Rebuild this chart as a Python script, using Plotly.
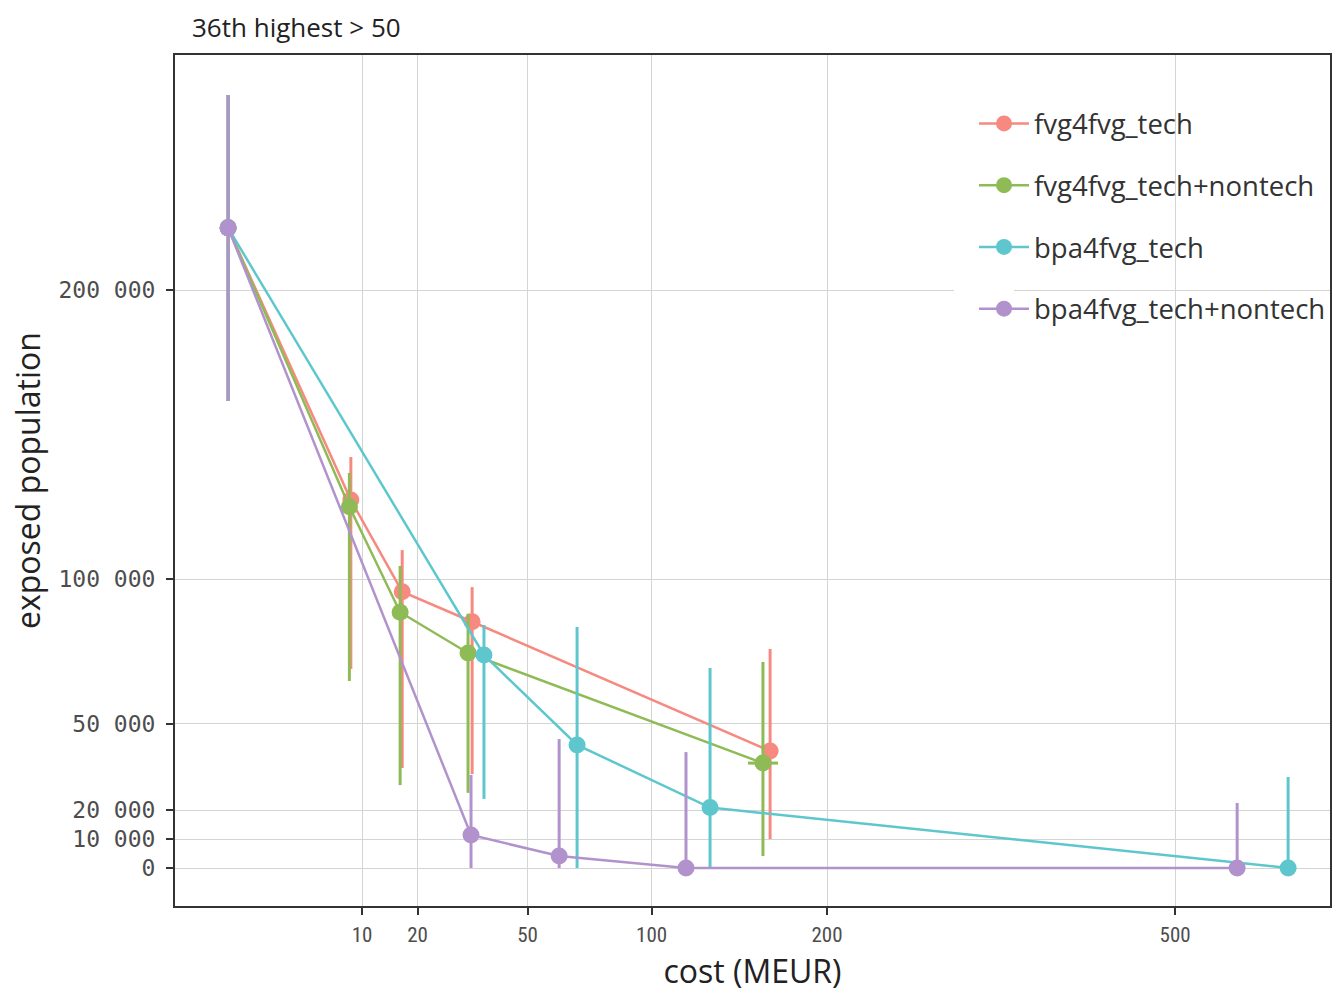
import numpy as np
import plotly.graph_objects as go

# ---- data ----
series_names = ["fvg4fvg_tech", "fvg4fvg_tech+nontech", "bpa4fvg_tech", "bpa4fvg_tech+nontech"]
series_colors = ["#F68A80", "#8EBB55", "#5EC7CD", "#B292CC"]

cost_fvg_tech = [0, 8.4, 16.9, 33.2, 163.8]
pop_fvg_tech = [221500, 127300, 95600, 85200, 40500]
pop_lo_fvg_tech = [161600, 68900, 34600, 32500, 10000]
pop_hi_fvg_tech = [267500, 142200, 110000, 97200, 75800]
cost_lo_fvg_tech = [0, 8.4, 16.9, 33.2, 163.8]
cost_hi_fvg_tech = [0, 8.4, 16.9, 33.2, 163.8]

cost_fvg_all = [0, 8.2, 16.5, 32.1, 159.5]
pop_fvg_all = [221500, 125000, 88500, 74400, 36300]
pop_lo_fvg_all = [161600, 64700, 28700, 26000, 4150]
pop_hi_fvg_all = [267500, 136700, 104500, 88000, 71300]
cost_lo_fvg_all = [0, 8.2, 16.5, 32.1, 150.7]
cost_hi_fvg_all = [0, 8.2, 16.5, 32.1, 168.6]

cost_bpa_tech = [0, 36.5, 67.9, 129.5, 626.5]
pop_bpa_tech = [221500, 73700, 42600, 20900, 0]
pop_lo_bpa_tech = [161600, 23900, 0, 0, 0]
pop_hi_bpa_tech = [267500, 84100, 83400, 69200, 31500]
cost_lo_bpa_tech = [0, 36.5, 67.9, 129.5, 626.5]
cost_hi_bpa_tech = [0, 36.5, 67.9, 129.5, 626.5]

cost_bpa_all = [0, 32.9, 61.1, 116.9, 567.7]
pop_bpa_all = [221500, 11400, 4150, 0, 0]
pop_lo_bpa_all = [161600, 0, 0, 0, 0]
pop_hi_bpa_all = [267500, 32200, 44600, 40100, 22500]
cost_lo_bpa_all = [0, 32.9, 61.1, 116.9, 567.7]
cost_hi_bpa_all = [0, 32.9, 61.1, 116.9, 567.7]

x_tick_values = [10, 20, 50, 100, 200, 500]
y_tick_values = [0, 10000, 20000, 50000, 100000, 200000]
y_tick_labels = ["0", "10 000", "20 000", "50 000", "100 000", "200 000"]

title_text = "36th highest > 50"
x_title = "cost (MEUR)"
y_title = "exposed population"

series = [
    (cost_fvg_tech, pop_fvg_tech, pop_lo_fvg_tech, pop_hi_fvg_tech, cost_lo_fvg_tech, cost_hi_fvg_tech),
    (cost_fvg_all, pop_fvg_all, pop_lo_fvg_all, pop_hi_fvg_all, cost_lo_fvg_all, cost_hi_fvg_all),
    (cost_bpa_tech, pop_bpa_tech, pop_lo_bpa_tech, pop_hi_bpa_tech, cost_lo_bpa_tech, cost_hi_bpa_tech),
    (cost_bpa_all, pop_bpa_all, pop_lo_bpa_all, pop_hi_bpa_all, cost_lo_bpa_all, cost_hi_bpa_all),
]

# sqrt scale on x (not native in plotly): transform data and ticks
def sq(v):
    return np.sqrt(np.asarray(v, dtype=float))

fig = go.Figure()
for name, color, (c, p, plo, phi, clo, chi) in zip(series_names, series_colors, series):
    x = sq(c)
    y = np.asarray(p, dtype=float)
    fig.add_trace(go.Scatter(
        x=x, y=y, name=name, mode="lines+markers", legendgroup=name,
        line=dict(color=color, width=2.5),
        marker=dict(color=color, size=17, line=dict(width=0)),
        error_y=dict(type="data", symmetric=False,
                     array=np.asarray(phi) - y, arrayminus=y - np.asarray(plo),
                     color=color, thickness=3, width=0),
        error_x=dict(type="data", symmetric=False,
                     array=sq(chi) - x, arrayminus=x - sq(clo),
                     color=color, thickness=3, width=0),
    ))

W, H = 1332, 992
L, R, T, B = 175, 1330, 55, 906
def px_x(v):
    return (v - L) / (R - L)
def px_y(v):
    return 1 - (v - T) / (B - T)

fig.update_layout(
    width=W, height=H,
    margin=dict(l=L, r=W - R, t=T, b=H - B, autoexpand=False),
    paper_bgcolor="white", plot_bgcolor="white",
    font=dict(family="Open Sans, Noto Sans, sans-serif", color="#222222"),
    showlegend=True,
    legend=dict(
        x=px_x(974), y=px_y(99), xanchor="left", yanchor="top",
        bgcolor="rgba(0,0,0,0)", borderwidth=0,
        font=dict(size=27.5, color="#333333", family="Open Sans, sans-serif"),
        itemwidth=50, traceorder="grouped", tracegroupgap=23,
    ),
    xaxis=dict(
        range=[-1.254, 26.019], automargin=False,
        tickvals=sq(x_tick_values), ticktext=[str(v) for v in x_tick_values],
        showgrid=True, gridcolor="#D4D4D4", gridwidth=1, zeroline=False,
        showline=True, linecolor="#333333", linewidth=2, mirror=True,
        ticks="outside", ticklen=7, tickwidth=2, tickcolor="#333333",
        ticklabelstandoff=2,
        tickfont=dict(family="Liberation Sans Narrow, Roboto Condensed, Roboto, sans-serif", size=21, color="#4D4D4D"),
        title=dict(text=x_title, font=dict(size=32, color="#222222"), standoff=16),
    ),
    yaxis=dict(
        range=[-13149, 281315], automargin=False,
        tickvals=y_tick_values, ticktext=y_tick_labels,
        showgrid=True, gridcolor="#D4D4D4", gridwidth=1, zeroline=False,
        showline=True, linecolor="#333333", linewidth=2, mirror=True,
        ticks="outside", ticklen=7, tickwidth=2, tickcolor="#333333",
        ticklabelstandoff=6,
        tickfont=dict(family="DejaVu Sans Mono, monospace", size=23, color="#4D4D4D"),
        title=dict(text=y_title, font=dict(size=32, color="#222222"), standoff=8),
    ),
    shapes=[dict(type="rect", xref="paper", yref="paper",
                 x0=px_x(954), x1=px_x(1014), y0=px_y(342), y1=px_y(95),
                 fillcolor="white", line=dict(width=0), layer="above")],
    annotations=[dict(text=title_text, xref="paper", yref="paper",
                      x=px_x(190), y=px_y(27), xanchor="left", yanchor="middle",
                      showarrow=False, font=dict(size=26, color="#222222"))],
)

fig.write_html("out.html", config={"displayModeBar": False},
               post_script="document.body.style.margin='0';document.body.style.overflow='hidden';")
